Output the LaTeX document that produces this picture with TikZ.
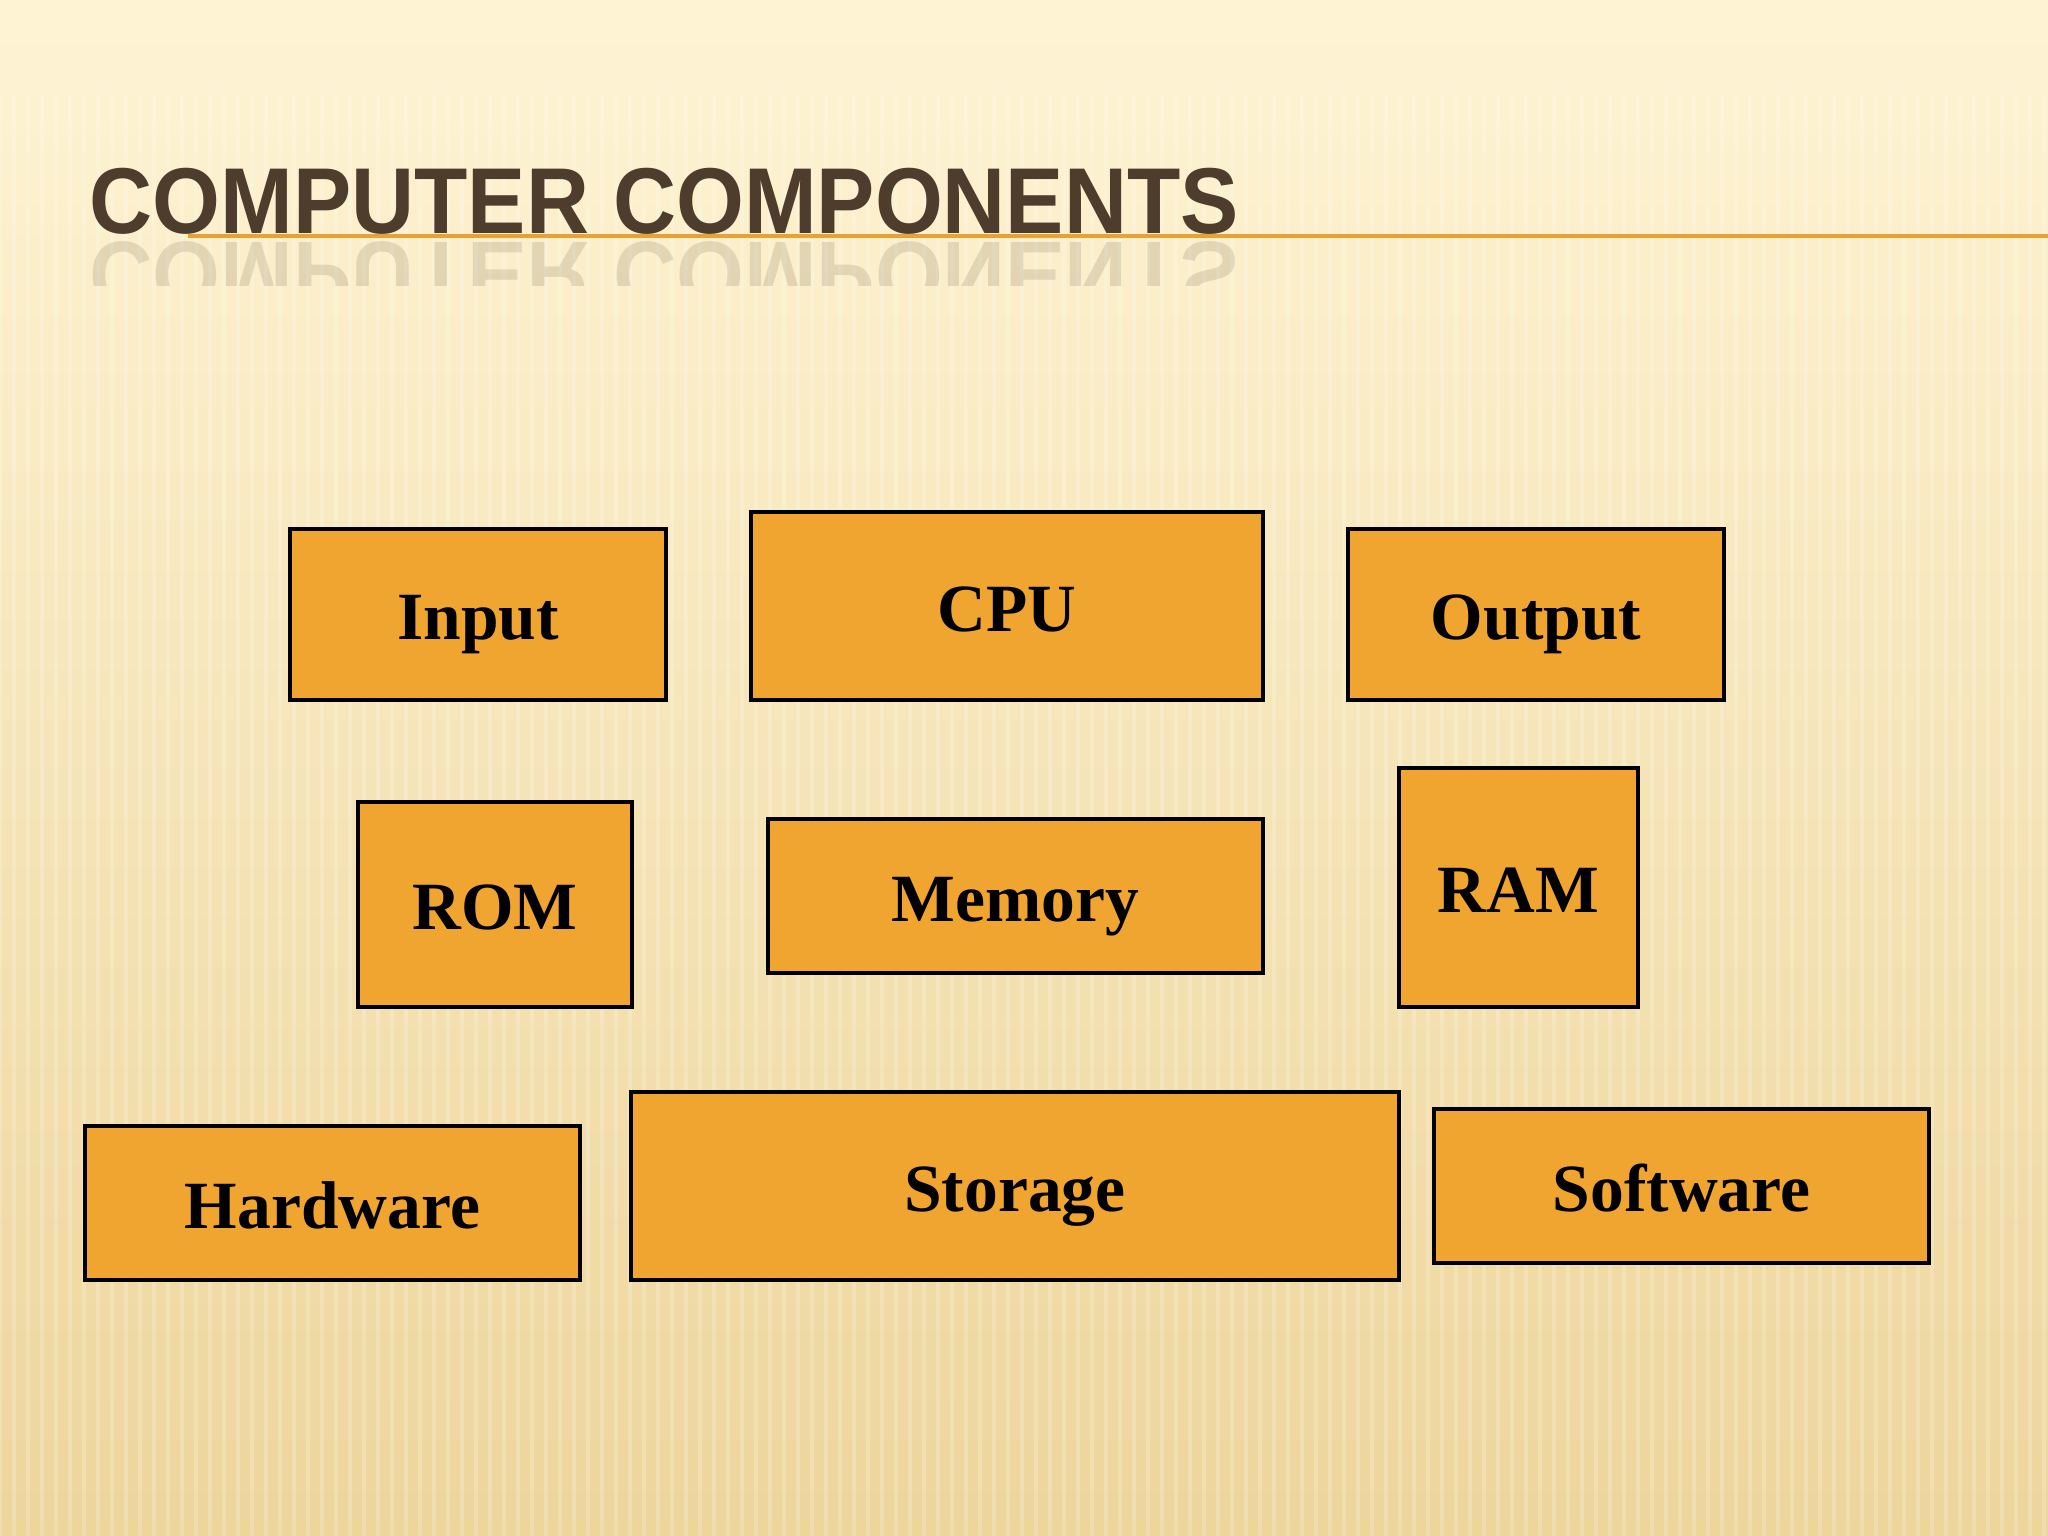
\documentclass[tikz,border=0pt]{standalone}
\usepackage{fontspec}
\setmainfont{Liberation Serif}
\newfontfamily\titlefont{Liberation Sans}
\definecolor{boxfill}{HTML}{F0A530}
\definecolor{bgtop}{HTML}{FEF4D4}
\definecolor{bgmid}{HTML}{FBEDC2}
\definecolor{bgbot}{HTML}{EDD59C}
\definecolor{titlecol}{HTML}{4E3C2D}
\definecolor{rulecol}{HTML}{E9A232}
\tikzset{
  compbox/.style={draw=black, line width=1pt, fill=boxfill, inner sep=0pt, outer sep=0pt},
  complabel/.style={font=\bfseries\fontsize{19.2}{23}\selectfont, text height=12.7pt, text depth=0pt, inner sep=0pt},
  titletext/.style={font=\titlefont\bfseries\fontsize{26.6}{30}\selectfont, text=titlecol, inner sep=0pt, xscale=0.933},
  stripe/.style={white, opacity=0.2, line width=0.04cm}
}
\begin{document}
\begin{tikzpicture}[x=0.01cm,y=-0.01cm]
\useasboundingbox (0,0) rectangle (2048,1536);
\shade[top color=bgtop, middle color=bgmid, bottom color=bgbot] (0,0) rectangle (2048,1536);
\fill[bgtop, opacity=0.6] (0,0) rectangle (2048,80);
\foreach \i in {0,14,...,2048} \draw[stripe] (\i,95) -- (\i,1536);
% title rule
\coordinate (ruleA) at (188,236);
\coordinate (ruleB) at (2048,236);
\draw[rulecol, line width=0.04cm] (ruleA) -- (ruleB);
% reflection
\begin{scope}
\clip (0,239) rectangle (1300,285);
\node[titletext, anchor=base west, yscale=-1, opacity=0.14] (titlerefl) at (89,242) {COMPUTER COMPONENTS};
\end{scope}
\node[titletext, anchor=base west] (title) at (89,233) {COMPUTER COMPONENTS};
% boxes
\node[compbox, minimum width=3.76cm, minimum height=1.71cm] (input) at (478,614.5) {};
\node[compbox, minimum width=5.12cm, minimum height=1.88cm] (cpu) at (1007,606) {};
\node[compbox, minimum width=3.76cm, minimum height=1.71cm] (output) at (1536,614.5) {};
\node[compbox, minimum width=2.74cm, minimum height=2.05cm] (rom) at (495,904.5) {};
\node[compbox, minimum width=4.95cm, minimum height=1.54cm] (memory) at (1015.5,896) {};
\node[compbox, minimum width=2.39cm, minimum height=2.39cm] (ram) at (1518.5,887.5) {};
\node[compbox, minimum width=4.95cm, minimum height=1.54cm] (hardware) at (332.5,1203) {};
\node[compbox, minimum width=7.68cm, minimum height=1.88cm] (storage) at (1015,1186) {};
\node[compbox, minimum width=4.95cm, minimum height=1.54cm] (software) at (1681.5,1186) {};
% labels
\node[complabel] (inputL) at (478,617) {Input};
\node[complabel] (cpuL) at (1007,609) {CPU};
\node[complabel] (outputL) at (1536,617) {Output};
\node[complabel] (romL) at (495,907) {ROM};
\node[complabel] (memoryL) at (1015.5,899) {Memory};
\node[complabel] (ramL) at (1518.5,890) {RAM};
\node[complabel] (hardwareL) at (332.5,1206) {Hardware};
\node[complabel] (storageL) at (1015,1189) {Storage};
\node[complabel] (softwareL) at (1681.5,1189) {Software};
\end{tikzpicture}
\end{document}
